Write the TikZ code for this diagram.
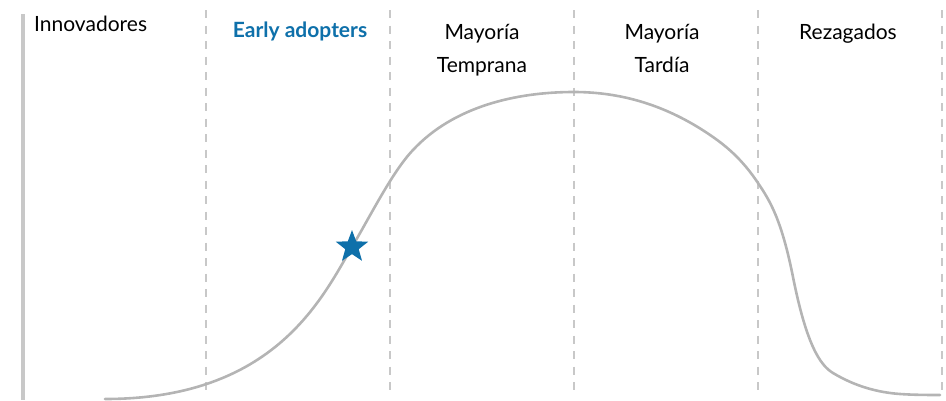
\documentclass[tikz,border=0pt]{standalone}
\usepackage{fontspec}
\setmainfont{Lato}
\usetikzlibrary{shapes.geometric}
\definecolor{curvegray}{HTML}{B4B4B4}
\definecolor{rulegray}{HTML}{C8C8C8}
\definecolor{adoptblue}{HTML}{0E70AA}
\begin{document}
\begin{tikzpicture}[x=1pt,y=-1pt,
  lbl/.style={font=\fontsize{21}{33}\selectfont,align=center,anchor=base,inner sep=0pt},
  sep/.style={rulegray,line width=2.5pt,dash pattern=on 8pt off 7.5pt},
  bell/.style={curvegray,line width=2.6pt,line cap=round}]
 \useasboundingbox (0,0) rectangle (946,400);
 % axis and the segment borders
 \draw[rulegray,line width=3.5pt] (23,14)--(23,400);
 \foreach \x in {206,390,574,758,942}
   \draw[sep] (\x,10)--(\x,392);
 % adoption curve
 \draw[bell] (105,399) .. controls (275,399) and (322,298) .. (352,247)
   .. controls (372.3,212.4) and (392.7,171.4) .. (413,150)
   .. controls (453,107) and (515,92) .. (574,92)
   .. controls (620.3,92) and (666.7,104.6) .. (713,137)
   .. controls (728,147.5) and (743,160.5) .. (758,183)
   .. controls (769.7,200.5) and (781.3,218.5) .. (793,277)
   .. controls (806.3,343.7) and (819.7,365) .. (833,373)
   .. controls (855.3,386.4) and (877.7,392.4) .. (900,394)
   .. controls (913.3,394.9) and (926.7,395) .. (940,395);
 \node[star,star points=5,star point ratio=2.4,fill=adoptblue,minimum size=34pt,
   inner sep=0pt] (estrella) at (352,247) {};
 % segment names
 \node[lbl,anchor=base west] (innov) at (34,31) {Innovadores};
 \node[lbl,font=\fontsize{21}{33}\selectfont\bfseries,text=adoptblue] (early) at (300,37) {Early adopters};
 \node[lbl] (tempr) at (482,72) {Mayoría\\Temprana};
 \node[lbl] (tardia) at (662,72) {Mayoría\\Tardía};
 \node[lbl] (rezag) at (848,39) {Rezagados};
\end{tikzpicture}
\end{document}
